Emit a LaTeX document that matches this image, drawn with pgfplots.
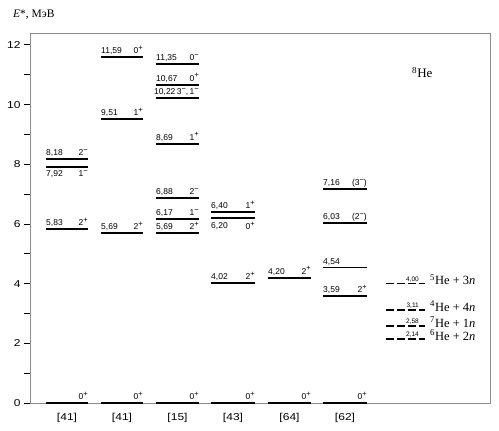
\documentclass[border=0pt]{standalone}
\usepackage{fontspec}
\setmainfont{Liberation Sans}
\newfontfamily\serif{Liberation Serif}
\newfontfamily\wide[FakeStretch=1.2]{Liberation Sans}
\usepackage{pgfplots}
\pgfplotsset{compat=1.18}
\definecolor{framec}{gray}{0.55}
\pgfplotsset{
  lev/.style={black, line width=1.8pt, forget plot},
  thrl/.style={black, line width=1.6pt, dash pattern=on 7.5pt off 3.5pt, forget plot},
}
\tikzset{
  lab/.style={font=\fontsize{8.5}{9}\selectfont, inner sep=0pt, yshift=3.5pt},
  labb/.style={font=\fontsize{8.5}{9}\selectfont, inner sep=0pt, yshift=-4pt},
}
\newcommand{\p}{\raisebox{3.2pt}{\fontsize{7.5}{8}\selectfont+}}
\newcommand{\m}{\raisebox{3.2pt}{\fontsize{7.5}{8}\selectfont−}}
% level, label above
\newcommand{\levA}[5]{%
  \addplot[lev] coordinates {(#1,#3) (#2,#3)};
  \node[lab,anchor=base west] at (axis cs:#1,#3) {#4};
  \node[lab,anchor=base east] at (axis cs:#2,#3) {#5};}
% level, label below
\newcommand{\levB}[5]{%
  \addplot[lev] coordinates {(#1,#3) (#2,#3)};
  \node[labb,anchor=north west] at (axis cs:#1,#3) {#4};
  \node[labb,anchor=north east] at (axis cs:#2,#3) {#5};}
% threshold
\newcommand{\thr}[3]{%
  \addplot[thrl] coordinates {(356,#1) (395,#1)};
  \node[font=\fontsize{6.5}{7}\selectfont,inner sep=0pt,anchor=base east,yshift=2.5pt] at (axis cs:389,#1) {#2};
  \node[font=\serif\fontsize{12.5}{13}\selectfont,inner sep=0pt,anchor=base west,yshift=-1pt] at (axis cs:400,#1) {#3};}
\begin{document}
\begin{tikzpicture}
\begin{axis}[
  scale only axis, width=460pt, height=370pt,
  xmin=0, xmax=460, ymin=0, ymax=12.4,
  axis line style={framec, line width=0.6pt},
  clip=false,
  ytick={0,2,...,12}, minor ytick={1,3,...,11},
  ytick pos=left, xtick pos=bottom,
  tick align=outside, major tick length=6pt, minor tick length=6pt,
  y tick style={black, line width=0.9pt},
  x tick style={draw=none},
  xtick={37,92,147.5,203,259.5,315},
  xticklabels={[41],[41],[15],[43],[64],[62]},
  xticklabel style={font=\wide\fontsize{10}{12}\selectfont, yshift=-1pt},
  yticklabel style={font=\wide\fontsize{10}{12}\selectfont},
  /pgf/number format/assume math mode=true,
]
% column 1 [41]
\levA{16}{58}{0}{}{0\p}
\levA{16}{58}{5.83}{5,83}{2\p}
\levB{16}{58}{7.92}{7,92}{1\m}
\levA{16}{58}{8.18}{8,18}{2\m}
% column 2 [41]
\levA{71}{113}{0}{}{0\p}
\levA{71}{113}{5.69}{5,69}{2\p}
\levA{71}{113}{9.51}{9,51}{1\p}
\levA{71}{113}{11.59}{11,59}{0\p}
% column 3 [15]
\levA{126}{169}{0}{}{0\p}
\levA{126}{169}{5.69}{5,69}{2\p}
\levA{126}{169}{6.17}{6,17}{1\m}
\levA{126}{169}{6.88}{6,88}{2\m}
\levA{126}{169}{8.69}{8,69}{1\p}
\levA{126}{169}{10.22}{\hspace*{-2pt}10,22}{3\m,\,1\m}
\levA{126}{169}{10.67}{10,67}{0\p}
\levA{126}{169}{11.35}{11,35}{0\m}
% column 4 [43]
\levA{181}{225}{0}{}{0\p}
\levA{181}{225}{4.02}{4,02}{2\p}
\levB{181}{225}{6.20}{6,20}{0\p}
\levA{181}{225}{6.40}{6,40}{1\p}
% column 5 [64]
\levA{238}{281}{0}{}{0\p}
\levA{238}{281}{4.20}{4,20}{2\p}
% column 6 [62]
\levA{293}{337}{0}{}{0\p}
\levA{293}{337}{3.59}{3,59}{2\p}
\levA{293}{337}{4.54}{4,54}{}
\levA{293}{337}{6.03}{6,03}{(2\m)}
\levA{293}{337}{7.16}{7,16}{(3\m)}
% thresholds
\thr{4.00}{4,00}{\textsuperscript{5}He + 3\textit{n}}
\thr{3.11}{3,11}{\textsuperscript{4}He + 4\textit{n}}
\thr{2.58}{2,58}{\textsuperscript{7}He + 1\textit{n}}
\thr{2.14}{2,14}{\textsuperscript{6}He + 2\textit{n}}
\node[font=\serif\fontsize{13}{14}\selectfont,inner sep=0pt,anchor=base west] at (axis cs:382,10.9) {\textsuperscript{8}He};
\node[font=\serif\fontsize{11.5}{12}\selectfont,inner sep=0pt,anchor=base west] at ([xshift=-17pt,yshift=15pt]rel axis cs:0,1) {\textit{E}*, МэВ};
\coordinate (bl) at ([xshift=-30pt,yshift=-28pt]rel axis cs:0,0);
\coordinate (tr) at ([xshift=9pt,yshift=33pt]rel axis cs:1,1);
\end{axis}
\path (bl) rectangle (tr);
\end{tikzpicture}
\end{document}
